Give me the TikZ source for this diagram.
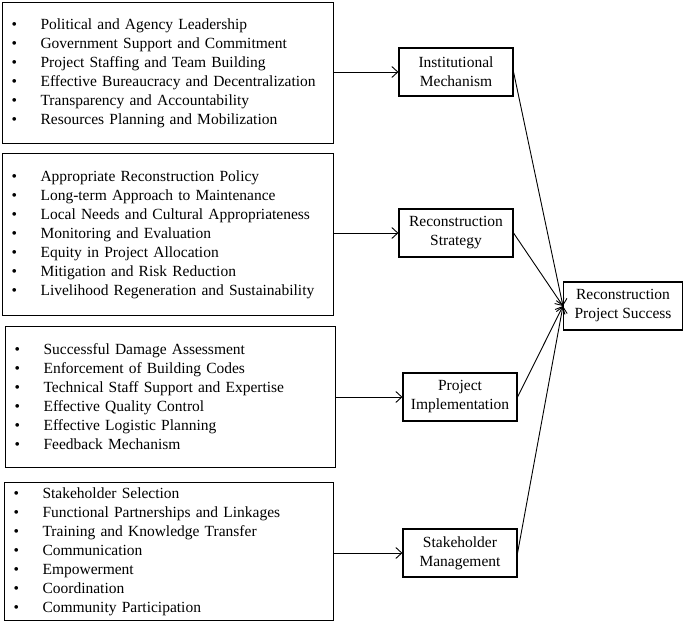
\documentclass[tikz,border=0pt]{standalone}
\usepackage{fontspec}
\setmainfont{Liberation Serif}
\usetikzlibrary{arrows.meta,positioning}
\newcommand{\bul}[1]{\makebox[29pt][l]{\textbullet}#1\\}

\begin{document}
\begin{tikzpicture}[>={Straight Barb[length=6pt,width=11pt]},x=1pt,y=-1pt,
  every node/.style={font=\fontsize{15.5}{19}\selectfont},
  listbox/.style={draw,line width=1.1pt,anchor=north west,align=left,inner xsep=9pt},
  factor/.style={draw,line width=1.1pt,align=center,minimum width=114pt,minimum height=48pt,inner sep=2pt},
  link/.style={->,line width=0.9pt}]
\useasboundingbox (0,0) rectangle (685,626);
% factor lists
\node[listbox,minimum width=331pt,minimum height=141pt,text width=313pt] (instlist) at (2,2) {%
 \bul{Political and Agency Leadership}
 \bul{Government Support and Commitment}
 \bul{Project Staffing and Team Building}
 \bul{Effective Bureaucracy and Decentralization}
 \bul{Transparency and Accountability}
 \bul{Resources Planning and Mobilization}};
\node[listbox,minimum width=331pt,minimum height=162pt,text width=313pt] (stratlist) at (2,153) {%
 \bul{Appropriate Reconstruction Policy}
 \bul{Long-term Approach to Maintenance}
 \bul{Local Needs and Cultural Appropriateness}
 \bul{Monitoring and Evaluation}
 \bul{Equity in Project Allocation}
 \bul{Mitigation and Risk Reduction}
 \bul{Livelihood Regeneration and Sustainability}};
\node[listbox,minimum width=330pt,minimum height=141pt,text width=312pt] (implist) at (5,326) {%
 \bul{Successful Damage Assessment}
 \bul{Enforcement of Building Codes}
 \bul{Technical Staff Support and Expertise}
 \bul{Effective Quality Control}
 \bul{Effective Logistic Planning}
 \bul{Feedback Mechanism}};
\node[listbox,minimum width=329pt,minimum height=138pt,text width=311pt] (stakelist) at (4,482) {%
 \bul{Stakeholder Selection}
 \bul{Functional Partnerships and Linkages}
 \bul{Training and Knowledge Transfer}
 \bul{Communication}
 \bul{Empowerment}
 \bul{Coordination}
 \bul{Community Participation}};
% dimensions
\node[factor] (inst) at (456,72) {Institutional\\Mechanism};
\node[factor] (strat) at (456,233) {Reconstruction\\Strategy};
\node[factor] (imp) at (460,397) {Project\\Implementation};
\node[factor] (stake) at (460,553) {Stakeholder\\Management};
\node[factor,minimum width=119pt] (success) at (623,306) {Reconstruction\\Project Success};
\foreach \a/\b in {instlist/inst,stratlist/strat,implist/imp,stakelist/stake} {
 \draw[link] (\b.west -| \a.east) -- (\b.west);
 \draw[link] (\b.east) -- (success.west);
}
\end{tikzpicture}
\end{document}
